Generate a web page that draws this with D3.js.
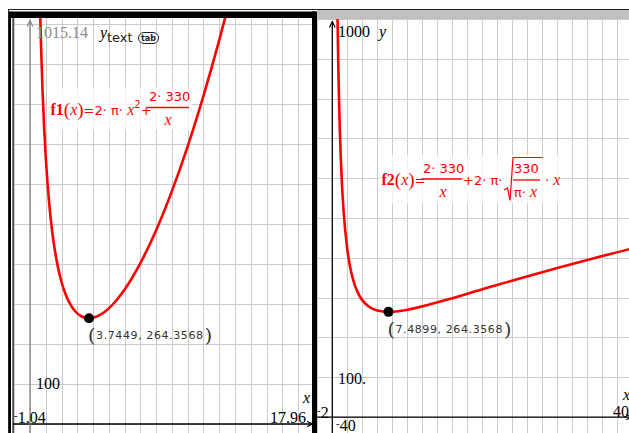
<!DOCTYPE html>
<html>
<head>
<meta charset="utf-8">
<script src="https://cdn.jsdelivr.net/npm/d3@7"></script>
<style>
    body { margin: 0; background: #fff; }
    svg { display: block; }
    .grid line { stroke: #cccccc; stroke-width: 1; shape-rendering: crispEdges; }
    .num { font-family: "Liberation Serif", serif; font-size: 16px; fill: #000; }
    .coord { font-family: "DejaVu Sans", sans-serif; font-size: 11px; letter-spacing: 0.6px; fill: #333; }
    .paren { font-family: "DejaVu Serif", serif; font-size: 19px; fill: #333; }
    .fx { fill: #ff0000; font-family: "DejaVu Sans", sans-serif; font-size: 13px; }
    .fx .serif { font-family: "Liberation Serif", serif; }
    .curve { fill: none; stroke: #ff0000; stroke-width: 2.6; }
</style>
</head>
<body>
<svg id="chart" width="629" height="433"></svg>
<script>
// ---- data ----
// f1(x) = 2*pi*x^2 + 2*330/x  (left page)
const f1X = [0.65, 0.7, 0.8, 0.9, 1.0, 1.2, 1.4, 1.6, 1.8, 2.0, 2.25, 2.5, 2.75, 3.0, 3.25, 3.5, 3.7449, 4.0, 4.5, 5.0, 5.5, 6.0, 7.0, 8.0, 9.0, 10.0, 11.0, 12.0, 12.5];
const f1Y = [1018.0, 945.9, 829.0, 738.4, 666.3, 559.0, 483.7, 428.6, 387.0, 355.1, 325.1, 303.3, 287.5, 276.5, 269.4, 265.5, 264.36, 265.5, 273.9, 289.1, 310.1, 336.2, 402.2, 484.6, 582.3, 694.3, 820.3, 959.8, 1034.5];
// f2(x) = 2*330/x + 2*pi*sqrt(330/(pi*x))*x  (right page)
const f2X = [0.68, 0.7, 0.8, 0.9, 1.0, 1.25, 1.5, 2, 2.5, 3, 3.5, 4, 5, 6, 7.4899, 9, 12, 16, 20, 25, 30, 35, 40, 41];
const f2Y = [1023.7, 996.7, 882.6, 794.4, 724.4, 600.0, 518.9, 421.1, 365.8, 331.5, 309.0, 293.8, 276.0, 267.7, 264.36, 266.5, 278.1, 298.8, 321.0, 348.4, 374.7, 399.8, 423.8, 429.0];

const f1Min = [3.7449, 264.3568];
const f2Min = [7.4899, 264.3568];

const leftWindow = { xMin: -1.04, xMax: 17.96, yMin: -22.5, yMax: 1015.14 };
const rightWindow = { xMin: -2, xMax: 40, yMin: -40, yMax: 1000 };

const leftLabels = { xMin: "1.04", xMax: "17.96", yMax: "1015.14", yScaleLabel: "100" };
const rightLabels = { xMin: "2", xMax: "40", yMin: "40", yMax: "1000", yScaleLabel: "100." };

class FunctionGraph {
    constructor(_config, _data) {
        this.config = {
            parentElement: _config.parentElement,
            id: _config.id,
            xRange: _config.xRange,
            yRange: _config.yRange,
            clip: _config.clip,
            xStep: _config.xStep || 1,
            yStep: _config.yStep || 100,
            yAxisColor: _config.yAxisColor || "#000"
        };
        this.data = _data;
        this.initVis();
    }

    initVis() {
        let vis = this;
        let w = vis.data.window;

        vis.svg = d3.select(vis.config.parentElement);
        vis.chart = vis.svg.append("g").attr("class", vis.config.id);

        vis.xScale = d3.scaleLinear().domain([w.xMin, w.xMax]).range(vis.config.xRange);
        vis.yScale = d3.scaleLinear().domain([w.yMin, w.yMax]).range(vis.config.yRange);

        // clip for everything inside the plot window
        let c = vis.config.clip;
        vis.svg.select("defs").append("clipPath")
            .attr("id", "clip-" + vis.config.id)
            .append("rect")
                .attr("x", c[0]).attr("y", c[1])
                .attr("width", c[2] - c[0]).attr("height", c[3] - c[1]);

        vis.plot = vis.chart.append("g").attr("clip-path", `url(#clip-${vis.config.id})`);

        vis.renderVis();
    }

    renderVis() {
        let vis = this;
        let w = vis.data.window;
        let c = vis.config.clip;

        // grid
        let xs = d3.range(Math.ceil(w.xMin / vis.config.xStep) * vis.config.xStep, w.xMax + 1e-9, vis.config.xStep);
        let ys = d3.range(Math.ceil(w.yMin / vis.config.yStep) * vis.config.yStep, w.yMax + 1e-9, vis.config.yStep);
        let grid = vis.plot.append("g").attr("class", "grid");
        grid.selectAll(".gx").data(xs).join("line")
            .attr("class", "gx")
            .attr("x1", d => Math.round(vis.xScale(d)) + 0.5).attr("x2", d => Math.round(vis.xScale(d)) + 0.5)
            .attr("y1", c[1]).attr("y2", c[3]);
        grid.selectAll(".gy").data(ys).join("line")
            .attr("class", "gy")
            .attr("y1", d => Math.round(vis.yScale(d)) + 0.5).attr("y2", d => Math.round(vis.yScale(d)) + 0.5)
            .attr("x1", c[0]).attr("x2", c[2]);

        // axes
        vis.plot.append("line")
            .attr("x1", c[0]).attr("x2", vis.xScale(w.xMax) - 1)
            .attr("y1", vis.yScale(0)).attr("y2", vis.yScale(0))
            .attr("stroke", "#000").attr("stroke-width", 1.3)
            .attr("marker-end", "url(#arrow-black)");
        vis.plot.append("line")
            .attr("x1", vis.xScale(0)).attr("x2", vis.xScale(0))
            .attr("y1", c[3]).attr("y2", c[1] + 3)
            .attr("stroke", vis.config.yAxisColor).attr("stroke-width", 1.3)
            .attr("marker-end", `url(#arrow-${vis.config.yAxisColor == "#000" ? "black" : "gray"})`);

        // curve
        let line = d3.line()
            .x(d => vis.xScale(d[0]))
            .y(d => vis.yScale(d[1]))
            .curve(d3.curveMonotoneX);
        vis.plot.append("path")
            .datum(d3.zip(vis.data.xs, vis.data.ys))
            .attr("class", "curve")
            .attr("d", line);

        // minimum point
        vis.plot.append("circle")
            .attr("cx", vis.xScale(vis.data.min[0]))
            .attr("cy", vis.yScale(vis.data.min[1]))
            .attr("r", 5)
            .attr("fill", "#000");

        let px = vis.xScale(vis.data.min[0]);
        let py = vis.yScale(vis.data.min[1]);
        let lab = vis.plot.append("g").attr("transform", `translate(${px},${py})`);
        lab.append("text").attr("class", "paren").attr("x", -1).attr("y", 24).text("(");
        let ct = lab.append("text").attr("class", "coord").attr("x", 7).attr("y", 21)
            .text(`${vis.data.min[0]}, ${vis.data.min[1]}`);
        let cw = ct.node().getComputedTextLength();
        lab.append("text").attr("class", "paren").attr("x", 8 + cw).attr("y", 24).text(")");
    }
}

const svg = d3.select("#chart");
const defs = svg.append("defs");
[["black", "#000"], ["gray", "#808080"]].forEach(([n, col]) => {
    defs.append("marker")
        .attr("id", "arrow-" + n)
        .attr("viewBox", "0 -5 10 10")
        .attr("refX", 8).attr("refY", 0)
        .attr("markerWidth", 7).attr("markerHeight", 7)
        .attr("markerUnits", "userSpaceOnUse")
        .attr("orient", "auto")
        .append("path").attr("d", "M0,-4L9,0L0,4").attr("fill", "none")
        .attr("stroke", col).attr("stroke-width", 1.6);
});

// page frame
svg.append("rect").attr("x", 0).attr("y", 0).attr("width", 629).attr("height", 433).attr("fill", "#fff");
svg.append("line").attr("x1", 8).attr("x2", 629).attr("y1", 9.5).attr("y2", 9.5).attr("stroke", "#222").attr("stroke-width", 1);
svg.append("line").attr("x1", 8.5).attr("x2", 8.5).attr("y1", 9).attr("y2", 433).attr("stroke", "#222").attr("stroke-width", 1);

const left = new FunctionGraph({
    parentElement: "#chart",
    id: "left",
    xRange: [13.6, 313.2],
    yRange: [433, 18],
    clip: [13, 18, 312, 433],
    xStep: 1,
    yStep: 100,
    yAxisColor: "#808080"
}, { xs: f1X, ys: f1Y, min: f1Min, window: leftWindow });

const right = new FunctionGraph({
    parentElement: "#chart",
    id: "right",
    xRange: [317.3, 632.3],
    yRange: [433, 19],
    clip: [317, 19, 629, 433],
    xStep: 2,
    yStep: 100,
    yAxisColor: "#000"
}, { xs: f2X, ys: f2Y, min: f2Min, window: rightWindow });

// panel borders: left page is selected (thick black frame), right has gray title band
svg.append("rect").attr("x", 317).attr("y", 10).attr("width", 312).attr("height", 9).attr("fill", "#c0c0c0");
svg.append("rect").attr("x", 10).attr("y", 11.5).attr("width", 306).attr("height", 6.5).attr("fill", "#000");
svg.append("rect").attr("x", 312).attr("y", 11.5).attr("width", 5).attr("height", 422).attr("fill", "#000");
svg.append("rect").attr("x", 9).attr("y", 11.5).attr("width", 2).attr("height", 422).attr("fill", "#000");
svg.append("rect").attr("x", 12.5).attr("y", 18).attr("width", 1.2).attr("height", 415).attr("fill", "#000");

// ---- window labels ----
function minusLabel(g, x, y, txt) {
    let t = g.append("text").attr("class", "num").attr("x", x).attr("y", y);
    t.append("tspan").attr("font-size", 11).attr("dy", -4).text("-");
    t.append("tspan").attr("dy", 4).text(txt);
    return t;
}

const lg = svg.append("g");
lg.append("text").attr("class", "num").attr("x", 36).attr("y", 38).style("fill", "#8c8c8c").text(leftLabels.yMax);
lg.append("text").attr("class", "num").attr("x", 100).attr("y", 38).attr("font-style", "italic").text("y");
lg.append("text").attr("x", 107).attr("y", 42).attr("font-family", "DejaVu Sans").attr("font-size", 13).attr("fill", "#222").text("text");
lg.append("rect").attr("x", 138.5).attr("y", 32.5).attr("width", 20).attr("height", 11).attr("rx", 5.5).attr("fill", "#fff").attr("stroke", "#222").attr("stroke-width", 1);
lg.append("text").attr("x", 148.5).attr("y", 41).attr("text-anchor", "middle").attr("font-family", "DejaVu Sans").attr("font-size", 8).attr("font-weight", "bold").attr("fill", "#222").text("tab");
lg.append("text").attr("class", "num").attr("x", 36).attr("y", 389).text(leftLabels.yScaleLabel);
minusLabel(lg, 14, 423, leftLabels.xMin);
lg.append("text").attr("class", "num").attr("x", 270).attr("y", 423).text(leftLabels.xMax);
lg.append("text").attr("class", "num").attr("x", 303).attr("y", 403).attr("font-style", "italic").text("x");

const rg = svg.append("g");
rg.append("text").attr("class", "num").attr("x", 338).attr("y", 37).text(rightLabels.yMax);
rg.append("text").attr("class", "num").attr("x", 379).attr("y", 37).attr("font-style", "italic").text("y");
rg.append("text").attr("class", "num").attr("x", 338).attr("y", 384).text(rightLabels.yScaleLabel);
minusLabel(rg, 317, 418, rightLabels.xMin);
minusLabel(rg, 336, 431, rightLabels.yMin);
rg.append("text").attr("class", "num").attr("x", 613).attr("y", 417).text(rightLabels.xMax);
rg.append("text").attr("class", "num").attr("x", 623).attr("y", 400).attr("font-style", "italic").text("x");

// ---- function definitions ----
function fname(g, x, y, name) {
    let t = g.append("text").attr("class", "fx").attr("x", x).attr("y", y);
    t.append("tspan").attr("class", "serif").attr("font-weight", "bold").attr("font-size", 16).text(name);
    t.append("tspan").attr("class", "serif").attr("font-size", 19).attr("dy", 1).text("(");
    t.append("tspan").attr("class", "serif").attr("font-style", "italic").attr("font-size", 16).attr("dy", -1).text("x");
    t.append("tspan").attr("class", "serif").attr("font-size", 19).attr("dy", 1).text(")");
    t.append("tspan").attr("dy", -1).text("=");
    return t;
}

const f1g = svg.append("g");
f1g.append("rect").attr("x", 47).attr("y", 88).attr("width", 145).attr("height", 42).attr("fill", "#fff").attr("opacity", 0.75);
let t1 = fname(f1g, 50.5, 115, "f1");
t1.append("tspan").text("2· π· ");
t1.append("tspan").attr("class", "serif").attr("font-style", "italic").attr("font-size", 16).text("x");
t1.append("tspan").attr("font-size", 10).attr("dy", -7).text("2");
t1.append("tspan").attr("dy", 7).text("+");
f1g.append("line").attr("x1", 146.5).attr("x2", 189).attr("y1", 107.5).attr("y2", 107.5).attr("stroke", "#ff0000").attr("stroke-width", 1.3);
f1g.append("text").attr("class", "fx").attr("x", 149).attr("y", 101).text("2· 330");
f1g.append("text").attr("class", "fx").attr("x", 164.5).attr("y", 125).append("tspan").attr("class", "serif").attr("font-style", "italic").attr("font-size", 16).text("x");

const f2g = svg.append("g");
f2g.append("rect").attr("x", 379).attr("y", 155).attr("width", 182).attr("height", 48).attr("fill", "#fff").attr("opacity", 0.75);
fname(f2g, 381.5, 185, "f2");
f2g.append("line").attr("x1", 421.5).attr("x2", 462).attr("y1", 179).attr("y2", 179).attr("stroke", "#ff0000").attr("stroke-width", 1.3);
f2g.append("text").attr("class", "fx").attr("x", 423).attr("y", 173).text("2· 330");
f2g.append("text").attr("class", "fx").attr("x", 439.5).attr("y", 197).append("tspan").attr("class", "serif").attr("font-style", "italic").attr("font-size", 16).text("x");
f2g.append("text").attr("class", "fx").attr("x", 463).attr("y", 185).text("+2· π·");
f2g.append("path").attr("d", "M504,190L507.5,188L510,200.5L513,157.5L543,157.5").attr("fill", "none").attr("stroke", "#ff0000").attr("stroke-width", 1.2);
f2g.append("line").attr("x1", 513).attr("x2", 540).attr("y1", 180).attr("y2", 180).attr("stroke", "#ff0000").attr("stroke-width", 1.3);
f2g.append("text").attr("class", "fx").attr("x", 514).attr("y", 173).text("330");
let t2 = f2g.append("text").attr("class", "fx").attr("x", 514).attr("y", 197);
t2.append("tspan").text("π· ");
t2.append("tspan").attr("class", "serif").attr("font-style", "italic").attr("font-size", 16).text("x");
let t3 = f2g.append("text").attr("class", "fx").attr("x", 545).attr("y", 185);
t3.append("tspan").text("· ");
t3.append("tspan").attr("class", "serif").attr("font-style", "italic").attr("font-size", 16).text("x");
</script>
</body>
</html>
